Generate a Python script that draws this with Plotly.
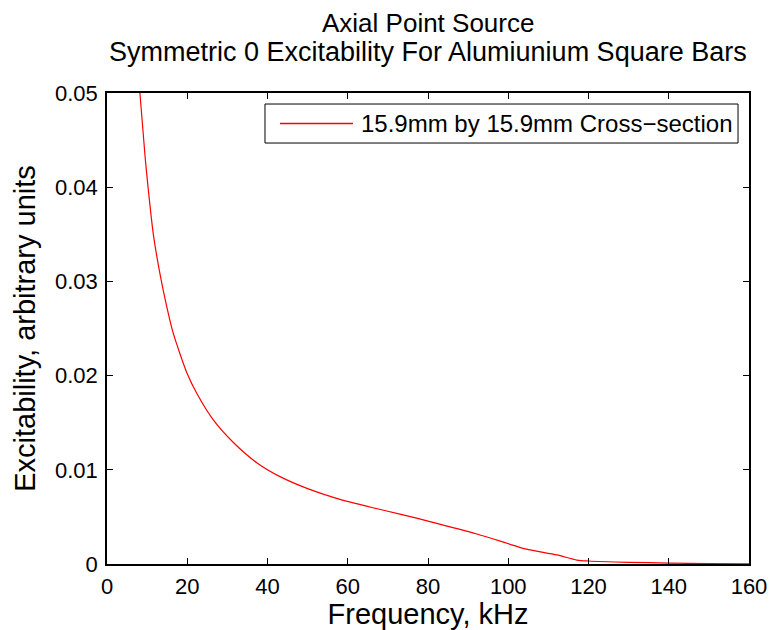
import plotly.graph_objects as go

freq_khz = [8.2, 9.5, 10.3, 11.55, 13.2, 14.9, 16.5, 18.2, 20.0, 22.4, 26.5, 31.5, 37.5,
            43.0, 50.0, 57.0, 66.0, 73.0, 80.5, 92.2, 99.7, 104.2, 112.1, 117.1, 120.0,
            130.0, 140.0, 150.0, 160.0]
excitability = [0.0500, 0.0432, 0.0397, 0.0350, 0.0308, 0.0273, 0.0245, 0.0223, 0.0202,
                0.0181, 0.0153, 0.0129, 0.0107, 0.0093, 0.0080, 0.0070, 0.0060, 0.0053,
                0.00450, 0.00318, 0.00220, 0.00160, 0.00096, 0.00042, 0.00032, 0.00018,
                0.00010, 0.00004, 0.00002]
series_name = "15.9mm by 15.9mm Cross\u2212section"
title_lines = ["Axial Point Source", "Symmetric 0 Excitability For Alumiunium Square Bars"]
x_ticks = [0, 20, 40, 60, 80, 100, 120, 140, 160]
y_ticks = [0, 0.01, 0.02, 0.03, 0.04, 0.05]

FONT = "Liberation Sans, Arial, sans-serif"
RED = "#ff0000"

fig = go.Figure()
fig.add_trace(go.Scatter(x=freq_khz, y=excitability, mode="lines",
                         line=dict(color=RED, width=1.2, shape="spline", smoothing=0.7),
                         name=series_name, showlegend=False))

# legend box drawn in paper coordinates (MATLAB-style long sample line)
lg_x0, lg_x1, lg_y0, lg_y1 = 0.2461, 0.9829, 0.8938, 0.9766
lg_mid = (lg_y0 + lg_y1) / 2
shapes = [
    dict(type="rect", xref="paper", yref="paper", x0=lg_x0, x1=lg_x1, y0=lg_y0, y1=lg_y1,
         line=dict(color="black", width=1), fillcolor="white", layer="above"),
    dict(type="line", xref="paper", yref="paper", x0=0.2695, x1=0.3832, y0=lg_mid, y1=lg_mid,
         line=dict(color=RED, width=1.5), layer="above"),
]

fig.update_layout(
    width=772, height=630,
    margin=dict(l=107, r=23, t=93, b=66),
    paper_bgcolor="white", plot_bgcolor="white",
    font=dict(family=FONT, color="black", size=22),
    showlegend=False,
    shapes=shapes,
    annotations=[
        dict(text=title_lines[0], x=0.5, y=1, xref="paper", yref="paper", yanchor="middle",
             yshift=70, showarrow=False, font=dict(size=26, family=FONT)),
        dict(text=title_lines[1], x=0.5, y=1, xref="paper", yref="paper", yanchor="middle",
             yshift=41, showarrow=False, font=dict(size=27, family=FONT)),
        dict(text=series_name, x=0.3925, y=lg_mid, xref="paper", yref="paper",
             xanchor="left", yanchor="middle", showarrow=False,
             font=dict(size=24, family=FONT)),
    ],
)
fig.update_xaxes(range=[0, 160], tickvals=x_ticks, ticks="inside", ticklen=6,
                 tickcolor="black", showline=True, linecolor="black", linewidth=1.5,
                 mirror="ticks", showgrid=False, zeroline=False, automargin=False,
                 ticklabelstandoff=2,
                 title=dict(text="Frequency, kHz", font=dict(size=29), standoff=6),
                 tickfont=dict(size=22))
fig.update_yaxes(range=[0, 0.05], tickvals=y_ticks, ticks="inside", ticklen=6,
                 tickcolor="black", showline=True, linecolor="black", linewidth=1.5,
                 mirror="ticks", showgrid=False, zeroline=False, automargin=False,
                 ticklabelstandoff=3,
                 title=dict(text="Excitability, arbitrary units", font=dict(size=29), standoff=11),
                 tickfont=dict(size=22))

fig.write_html("out.html")
